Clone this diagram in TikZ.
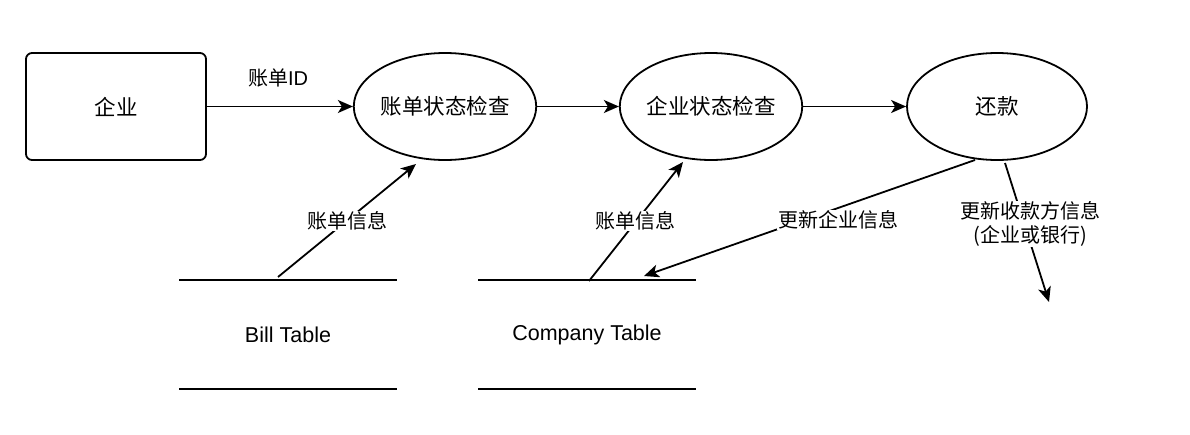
\documentclass[tikz,border=0pt]{standalone}
\usepackage{fontspec}
\setmainfont{Liberation Sans}
\newfontfamily\cjk{Noto Sans CJK SC}
\usetikzlibrary{shapes.geometric,arrows.meta}
\begin{document}
\begin{tikzpicture}[x=1pt,y=-1pt,
  line width=1.8pt,
  mainlbl/.style={font=\fontsize{21.5}{25}\selectfont},
  edgelbl/.style={font=\fontsize{20}{24}\selectfont, fill=white, inner sep=1pt, align=center},
  procbox/.style={draw, line width=1.8pt, rounded corners=6pt, minimum width=180pt, minimum height=107pt, inner sep=0pt, mainlbl},
  procell/.style={draw, line width=1.8pt, ellipse, minimum width=180pt, minimum height=107pt, inner sep=0pt, mainlbl},
  store/.style={minimum width=216pt, minimum height=107pt, inner sep=0pt, mainlbl},
  flow/.style={-{Stealth[length=15pt,width=13pt,inset=4pt]}, line width=1.8pt}
]
\useasboundingbox (0,0) rectangle (1190,434);

\node[procbox] (qy) at (116,106.5) {\cjk 企业};
\node[procell] (zdcheck) at (445,106.5) {\cjk 账单状态检查};
\node[procell] (qycheck) at (711,106.5) {\cjk 企业状态检查};
\node[procell] (hk) at (997,106.5) {\cjk 还款};

\node[store] (bill) at (288,334.5) {Bill Table};
\node[store] (comp) at (587,334.5) {Company Table};
\draw (bill.north west) -- (bill.north east);
\draw (bill.south west) -- (bill.south east);
\draw (comp.north west) -- (comp.north east);
\draw (comp.south west) -- (comp.south east);

\draw[flow] (qy.east) -- (zdcheck.west);
\node[edgelbl, fill=none] (lid) at (278,78) {{\cjk 账单}ID};
\draw[flow] (zdcheck.east) -- (qycheck.west);
\draw[flow] (qycheck.east) -- (hk.west);

\coordinate (b1) at (278,277);
\coordinate (b2) at (416,164);
\draw[flow] (b1) -- (b2);
\node[edgelbl] (lb1) at (347,221) {\cjk 账单信息};

\coordinate (c1) at (589,281);
\coordinate (c2) at (683,162);
\draw[flow] (c1) -- (c2);
\node[edgelbl] (lc1) at (635,221) {\cjk 账单信息};

\coordinate (h1) at (975,160);
\coordinate (h2) at (644,276);
\draw[flow] (h1) -- (h2);
\node[edgelbl] (lh1) at (838,220) {\cjk 更新企业信息};

\coordinate (r1) at (1005,163);
\coordinate (r2) at (1049,302);
\draw[flow] (r1) -- (r2);
\node[edgelbl] (lr1) at (1030,224) {\cjk 更新收款方信息\\\cjk (企业或银行)};
\end{tikzpicture}
\end{document}
